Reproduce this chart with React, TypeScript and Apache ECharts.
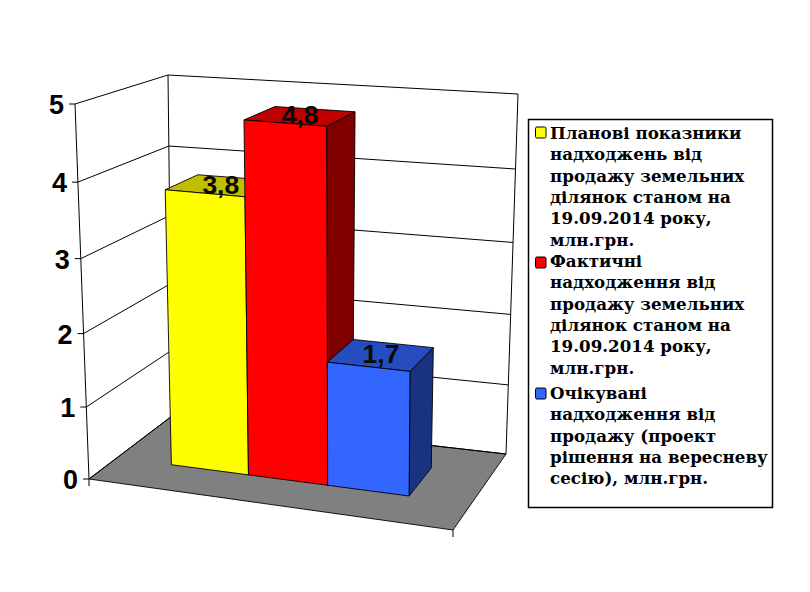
import React, { useEffect, useRef } from "react";
import * as echarts from "echarts";

const seriesNames = [
  "Планові показники\nнадходжень від\nпродажу земельних\nділянок станом на\n19.09.2014 року,\nмлн.грн.",
  "Фактичні\nнадходження від\nпродажу земельних\nділянок станом на\n19.09.2014 року,\nмлн.грн.",
  "Очікувані\nнадходження від\nпродажу (проект\nрішення на вересневу\nсесію), млн.грн.",
];
const seriesValues = [3.8, 4.8, 1.7];
const frontColors = ["#FFFF00", "#FF0000", "#3366FF"];
const topColors = ["#BFBF00", "#BF0000", "#264DBF"];
const sideColors = ["#808000", "#800000", "#1A3380"];
const tickValues = [0, 1, 2, 3, 4, 5];
const yMax = 5;

// Projection of the 3D box on the page
type Pt = [number, number];
const floor: Pt[] = [[89, 479], [453, 530], [506, 454], [172, 416]];
const ceil: Pt[] = [[75, 104], [455, 136], [518, 94], [168, 75]];
const GRID = 300;
const U0 = 0.153;
const U1 = 0.825;
const D0 = 0.34;
const D1 = 0.72;

const lerp = (a: Pt, b: Pt, k: number): Pt => [a[0] + (b[0] - a[0]) * k, a[1] + (b[1] - a[1]) * k];
const bil = (q: Pt[], u: number, d: number): Pt => lerp(lerp(q[0], q[1], u), lerp(q[3], q[2], u), d);
const persp = (t: number) => (0.95 * t) / (1 - 0.05 * t);
const perspU = (s: number) => (0.96 * s) / (1 - 0.04 * s);
const proj = (u: number, d: number, t: number): Pt => lerp(bil(floor, u, d), bil(ceil, u, d), persp(t));
const tOf = (py: number) => (GRID - py) / GRID;
const uOf = (px: number) => U0 + perspU(px / GRID) * (U1 - U0);

const lineStyle = { stroke: "#000", lineWidth: 1, fill: "none" };
const poly = (points: Pt[], fill: string) => ({
  type: "polygon",
  shape: { points },
  style: { fill, stroke: "#000", lineWidth: 0.9, lineJoin: "round" },
});
const line = (points: Pt[]) => ({ type: "polyline", shape: { points }, style: lineStyle });

const legendLineHeight = 21.3;
const legendTops = [122.5, 250.5, 382.5];
const swatchTops = [127, 257, 388];

export default function App() {
  const ref = useRef<HTMLDivElement>(null);
  useEffect(() => {
    const chart = echarts.init(ref.current!, undefined, { renderer: "svg" });

    const renderFrame = () => ({
      type: "group",
      children: [
        poly([floor[0], floor[1], floor[2], floor[3]], "#808080"),
        line([proj(0, 0, 0), proj(0, 0, 1)]),
        line([proj(0, 1, 0), proj(0, 1, 1)]),
        line([proj(1, 1, 0), proj(1, 1, 1)]),
        line([proj(0, 0, 0), [proj(0, 0, 0)[0], proj(0, 0, 0)[1] + 7]]),
        line([proj(1, 0, 0), [proj(1, 0, 0)[0], proj(1, 0, 0)[1] + 7]]),
      ],
    });

    const renderTick = (_p: any, api: any) => {
      const v = api.value(1);
      const t = tOf(api.coord([0, v])[1]);
      const a = proj(0, 0, t);
      return {
        type: "group",
        children: [
          line([a, proj(0, 1, t), proj(1, 1, t)]),
          line([[a[0] - 6, a[1]], a]),
          {
            type: "text",
            style: {
              x: a[0] - 11,
              y: a[1] + 1,
              text: String(v),
              textAlign: "right",
              textVerticalAlign: "middle",
              font: 'bold 27px "Liberation Sans", Arial, sans-serif',
              fill: "#000",
            },
          },
        ],
      };
    };

    const renderBar = (params: any, api: any) => {
      const idx = api.value(0);
      const v = api.value(1);
      const c = api.coord([idx, v]);
      const w = api.size([1, 0])[0];
      const t = tOf(c[1]);
      const u0 = uOf(c[0] - w / 2);
      const u1 = uOf(c[0] + w / 2);
      const i = params.seriesIndex - 2;
      const f0 = proj(u0, D0, 0);
      const f1 = proj(u1, D0, 0);
      const b1 = proj(u1, D1, 0);
      const ft0 = proj(u0, D0, t);
      const ft1 = proj(u1, D0, t);
      const bt1 = proj(u1, D1, t);
      const bt0 = proj(u0, D1, t);
      const mid = proj((u0 + u1) / 2, (D0 + D1) / 2, t);
      return {
        type: "group",
        children: [
          poly([f1, b1, bt1, ft1], sideColors[i]),
          poly([ft0, ft1, bt1, bt0], topColors[i]),
          poly([f0, f1, ft1, ft0], frontColors[i]),
          {
            type: "text",
            style: {
              x: mid[0],
              y: mid[1] - 1,
              text: String(v).replace(".", ","),
              textAlign: "center",
              textVerticalAlign: "middle",
              font: 'bold 26.5px "Liberation Sans", Arial, sans-serif',
              fill: "#0a0a0a",
            },
          },
        ],
      };
    };

    chart.setOption({
      animation: false,
      backgroundColor: "#fff",
      grid: { left: 0, top: 0, width: GRID, height: GRID, show: false },
      xAxis: { type: "category", data: seriesNames, show: false },
      yAxis: { type: "value", min: 0, max: yMax, interval: 1, show: false },
      series: [
        {
          type: "custom",
          name: "frame",
          clip: false,
          silent: true,
          z: 1,
          data: [[0, 0]],
          encode: { x: 0, y: 1 },
          renderItem: renderFrame,
        },
        {
          type: "custom",
          name: "ticks",
          clip: false,
          silent: true,
          z: 2,
          data: tickValues.map((v) => [0, v]),
          encode: { x: 0, y: 1 },
          renderItem: renderTick,
        },
        ...seriesValues.map((v, i) => ({
          type: "custom",
          name: seriesNames[i],
          clip: false,
          silent: true,
          z: 3 + i,
          data: [[i, v]],
          encode: { x: 0, y: 1 },
          renderItem: renderBar,
        })),
      ],
      graphic: [
        {
          type: "rect",
          z: 20,
          shape: { x: 528.5, y: 119.5, width: 244, height: 388 },
          style: { fill: "#fff", stroke: "#000", lineWidth: 1.5 },
        },
        ...seriesNames.flatMap((name, i) => [
          {
            type: "rect",
            z: 21,
            shape: { x: 535.5, y: swatchTops[i], width: 10.5, height: 11, r: 1.5 },
            style: { fill: frontColors[i], stroke: "#000", lineWidth: 1 },
          },
          {
            type: "text",
            z: 21,
            style: {
              x: 550,
              y: legendTops[i],
              text: name,
              font: 'bold 16.7px "DejaVu Serif", serif',
              lineHeight: legendLineHeight,
              fill: "#000",
              textVerticalAlign: "top",
            },
          },
        ]),
      ],
    });
    return () => chart.dispose();
  }, []);
  return <div ref={ref} style={{ position: "absolute", left: 0, top: 0, width: 810, height: 592 }} />;
}
